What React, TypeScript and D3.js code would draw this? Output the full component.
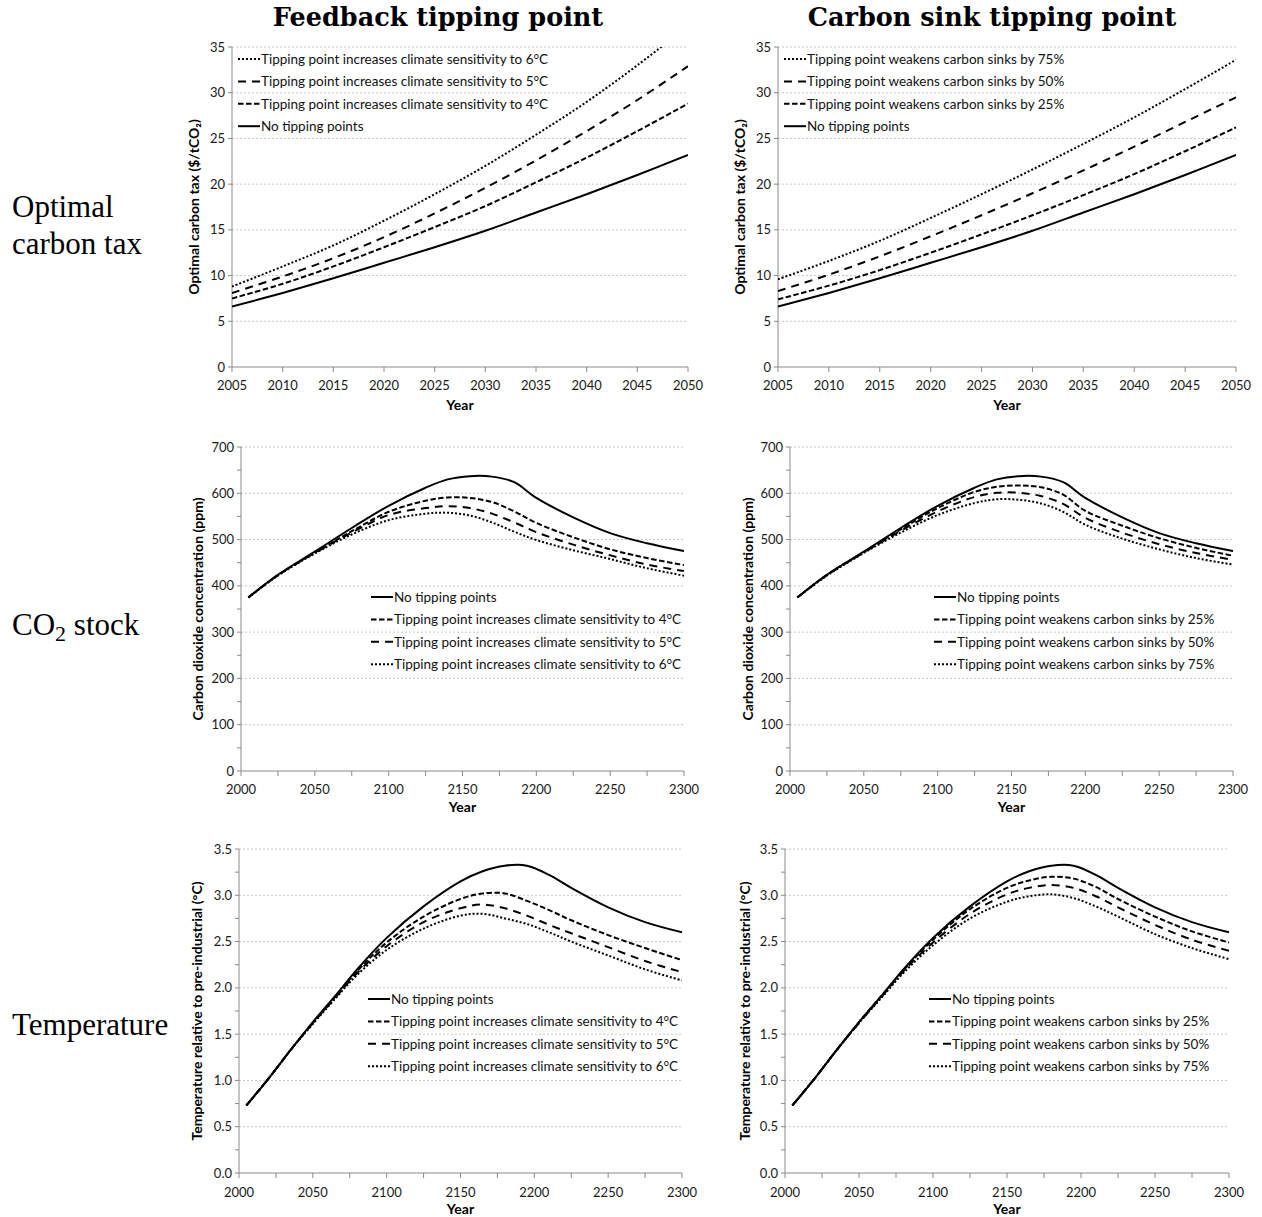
import React, { useEffect, useRef } from 'react';
import * as d3 from 'd3';

// ---- data ----
const taxYears = [2005, 2010, 2015, 2020, 2025, 2030, 2035, 2040, 2045, 2050];
const taxNone = [6.6, 8.1, 9.7, 11.4, 13.1, 14.9, 16.9, 18.9, 21.0, 23.2];
const taxSens4 = [7.5, 9.1, 11.0, 13.1, 15.3, 17.6, 20.2, 22.9, 25.8, 28.8];
const taxSens5 = [8.1, 9.9, 11.9, 14.2, 16.8, 19.6, 22.6, 25.8, 29.2, 32.9];
const taxSens6 = [8.8, 11.0, 13.3, 16.0, 18.9, 22.0, 25.4, 29.0, 33.0, 37.3];
const taxSink25 = [7.4, 8.9, 10.6, 12.5, 14.5, 16.6, 18.8, 21.1, 23.6, 26.2];
const taxSink50 = [8.3, 10.1, 12.1, 14.3, 16.6, 19.0, 21.5, 24.1, 26.8, 29.5];
const taxSink75 = [9.6, 11.6, 13.8, 16.3, 18.9, 21.6, 24.4, 27.3, 30.4, 33.6];

const co2Years = [2005, 2025, 2050, 2075, 2100, 2125, 2140, 2155, 2170, 2185, 2200, 2225, 2250, 2275, 2300];
const co2None = [375, 424, 474, 525, 573, 612, 630, 637, 636, 624, 590, 548, 514, 492, 475];
const co2Sens4 = [375, 423, 472, 518, 560, 584, 591, 590, 581, 561, 536, 505, 479, 460, 445];
const co2Sens5 = [375, 423, 471, 515, 553, 568, 572, 568, 556, 537, 516, 489, 466, 446, 432];
const co2Sens6 = [375, 422, 470, 511, 542, 556, 558, 552, 537, 517, 499, 477, 458, 438, 422];
const co2Sink25 = [375, 424, 473, 522, 568, 603, 614, 617, 613, 597, 562, 530, 503, 482, 465];
const co2Sink50 = [375, 423, 472, 519, 561, 592, 601, 601, 594, 577, 547, 515, 490, 471, 456];
const co2Sink75 = [375, 422, 471, 515, 553, 579, 587, 586, 578, 560, 532, 502, 479, 460, 446];

const tempYears = [2005, 2020, 2035, 2050, 2065, 2080, 2100, 2125, 2150, 2165, 2180, 2195, 2210, 2225, 2250, 2275, 2300];
const tempNone = [0.73, 1.02, 1.33, 1.63, 1.91, 2.2, 2.54, 2.88, 3.15, 3.26, 3.32, 3.32, 3.22, 3.08, 2.87, 2.71, 2.6];
const tempSens4 = [0.73, 1.02, 1.33, 1.62, 1.9, 2.18, 2.49, 2.77, 2.96, 3.02, 3.02, 2.94, 2.84, 2.73, 2.57, 2.43, 2.3];
const tempSens5 = [0.73, 1.02, 1.33, 1.62, 1.89, 2.16, 2.45, 2.71, 2.86, 2.9, 2.86, 2.78, 2.68, 2.59, 2.44, 2.29, 2.17];
const tempSens6 = [0.73, 1.02, 1.33, 1.61, 1.88, 2.14, 2.41, 2.64, 2.78, 2.8, 2.75, 2.69, 2.6, 2.5, 2.35, 2.2, 2.08];
const tempSink25 = [0.73, 1.02, 1.33, 1.63, 1.91, 2.19, 2.52, 2.85, 3.08, 3.16, 3.2, 3.18, 3.09, 2.96, 2.77, 2.61, 2.49];
const tempSink50 = [0.73, 1.02, 1.33, 1.62, 1.9, 2.18, 2.49, 2.8, 3.01, 3.08, 3.11, 3.08, 2.99, 2.87, 2.68, 2.52, 2.4];
const tempSink75 = [0.73, 1.02, 1.33, 1.62, 1.89, 2.16, 2.46, 2.75, 2.93, 2.99, 3.01, 2.97, 2.88, 2.77, 2.58, 2.43, 2.31];

const labelNone = 'No tipping points';
const labelSens = ['Tipping point increases climate sensitivity to 4°C', 'Tipping point increases climate sensitivity to 5°C', 'Tipping point increases climate sensitivity to 6°C'];
const labelSink = ['Tipping point weakens carbon sinks by 25%', 'Tipping point weakens carbon sinks by 50%', 'Tipping point weakens carbon sinks by 75%'];

const dashes: { [k: string]: string | null } = {
  solid: null,
  short: '5.5,2.5',
  long: '8,6',
  dot: '2,2',
};

const SANS = 'Lato, "Open Sans", sans-serif';

const App = () => {
  const ref = useRef<SVGGElement>(null);

  useEffect(() => {
    const svg = d3.select(ref.current);
    svg.selectAll('*').remove();

    const panels = [
      {
        box: [232, 688, 47, 367], xd: [2005, 2050], yd: [0, 35], years: taxYears,
        xt: d3.range(2005, 2051, 5), xm: [] as number[], yt: d3.range(0, 36, 5), ym: [] as number[], fmt: (d: number) => String(d),
        yLab: 'Optimal carbon tax ($/tCO₂)', yLabX: 194, xTickY: 390, xLabY: 410,
        leg: { x: 238, y: 59 },
        series: [
          { v: taxSens6, s: 'dot', l: labelSens[2] },
          { v: taxSens5, s: 'long', l: labelSens[1] },
          { v: taxSens4, s: 'short', l: labelSens[0] },
          { v: taxNone, s: 'solid', l: labelNone },
        ],
      },
      {
        box: [778, 1236, 47, 367], xd: [2005, 2050], yd: [0, 35], years: taxYears,
        xt: d3.range(2005, 2051, 5), xm: [] as number[], yt: d3.range(0, 36, 5), ym: [] as number[], fmt: (d: number) => String(d),
        yLab: 'Optimal carbon tax ($/tCO₂)', yLabX: 740, xTickY: 390, xLabY: 410,
        leg: { x: 784, y: 59 },
        series: [
          { v: taxSink75, s: 'dot', l: labelSink[2] },
          { v: taxSink50, s: 'long', l: labelSink[1] },
          { v: taxSink25, s: 'short', l: labelSink[0] },
          { v: taxNone, s: 'solid', l: labelNone },
        ],
      },
      {
        box: [241, 684, 447, 771], xd: [2000, 2300], yd: [0, 700], years: co2Years,
        xt: d3.range(2000, 2301, 50), xm: d3.range(2025, 2300, 50), yt: d3.range(0, 701, 100), ym: d3.range(50, 700, 100), fmt: (d: number) => String(d),
        yLab: 'Carbon dioxide concentration (ppm)', yLabX: 198, xTickY: 794, xLabY: 812,
        leg: { x: 371, y: 597 },
        series: [
          { v: co2None, s: 'solid', l: labelNone },
          { v: co2Sens4, s: 'short', l: labelSens[0] },
          { v: co2Sens5, s: 'long', l: labelSens[1] },
          { v: co2Sens6, s: 'dot', l: labelSens[2] },
        ],
      },
      {
        box: [790, 1233, 447, 771], xd: [2000, 2300], yd: [0, 700], years: co2Years,
        xt: d3.range(2000, 2301, 50), xm: d3.range(2025, 2300, 50), yt: d3.range(0, 701, 100), ym: d3.range(50, 700, 100), fmt: (d: number) => String(d),
        yLab: 'Carbon dioxide concentration (ppm)', yLabX: 748, xTickY: 794, xLabY: 812,
        leg: { x: 934, y: 597 },
        series: [
          { v: co2None, s: 'solid', l: labelNone },
          { v: co2Sink25, s: 'short', l: labelSink[0] },
          { v: co2Sink50, s: 'long', l: labelSink[1] },
          { v: co2Sink75, s: 'dot', l: labelSink[2] },
        ],
      },
      {
        box: [239, 682, 849, 1173], xd: [2000, 2300], yd: [0, 3.5], years: tempYears,
        xt: d3.range(2000, 2301, 50), xm: d3.range(2025, 2300, 50), yt: d3.range(0, 3.51, 0.5), ym: d3.range(0.25, 3.5, 0.5), fmt: d3.format('.1f'),
        yLab: 'Temperature relative to pre-industrial (°C)', yLabX: 197, xTickY: 1197, xLabY: 1214,
        leg: { x: 368, y: 999 },
        series: [
          { v: tempNone, s: 'solid', l: labelNone },
          { v: tempSens4, s: 'short', l: labelSens[0] },
          { v: tempSens5, s: 'long', l: labelSens[1] },
          { v: tempSens6, s: 'dot', l: labelSens[2] },
        ],
      },
      {
        box: [785, 1229, 849, 1173], xd: [2000, 2300], yd: [0, 3.5], years: tempYears,
        xt: d3.range(2000, 2301, 50), xm: d3.range(2025, 2300, 50), yt: d3.range(0, 3.51, 0.5), ym: d3.range(0.25, 3.5, 0.5), fmt: d3.format('.1f'),
        yLab: 'Temperature relative to pre-industrial (°C)', yLabX: 745, xTickY: 1197, xLabY: 1214,
        leg: { x: 929, y: 999 },
        series: [
          { v: tempNone, s: 'solid', l: labelNone },
          { v: tempSink25, s: 'short', l: labelSink[0] },
          { v: tempSink50, s: 'long', l: labelSink[1] },
          { v: tempSink75, s: 'dot', l: labelSink[2] },
        ],
      },
    ];

    panels.forEach((p, pi) => {
      const [x0, x1, y0, y1] = p.box;
      const x = d3.scaleLinear().domain(p.xd).range([x0, x1]);
      const y = d3.scaleLinear().domain(p.yd).range([y1, y0]);
      const g = svg.append('g');

      // gridlines
      g.selectAll('.grid')
        .data(p.yt.filter((d) => d > p.yd[0]))
        .enter().append('line')
        .attr('x1', x0).attr('x2', x1)
        .attr('y1', (d) => y(d)).attr('y2', (d) => y(d))
        .attr('stroke', '#b8b8b8').attr('stroke-width', 0.8).attr('stroke-dasharray', '2,2');

      // axes
      g.append('line').attr('x1', x0).attr('x2', x0).attr('y1', y0).attr('y2', y1).attr('stroke', '#8a8a8a');
      g.append('line').attr('x1', x0).attr('x2', x1).attr('y1', y1).attr('y2', y1).attr('stroke', '#8a8a8a');
      g.selectAll('.xt').data(p.xt.concat(p.xm)).enter().append('line')
        .attr('x1', (d) => x(d)).attr('x2', (d) => x(d)).attr('y1', y1).attr('y2', y1 + 5)
        .attr('stroke', '#8a8a8a');
      g.selectAll('.yt').data(p.yt.concat(p.ym)).enter().append('line')
        .attr('x1', x0 - 4).attr('x2', x0).attr('y1', (d) => y(d)).attr('y2', (d) => y(d))
        .attr('stroke', '#8a8a8a');

      // tick labels
      g.selectAll('.xl').data(p.xt).enter().append('text')
        .attr('x', (d) => x(d)).attr('y', p.xTickY).attr('text-anchor', 'middle')
        .attr('font-family', SANS).attr('font-size', 13).attr('fill', '#1a1a1a')
        .text((d) => String(d));
      g.selectAll('.yl').data(p.yt).enter().append('text')
        .attr('x', x0 - 7).attr('y', (d) => y(d)).attr('dy', '0.35em').attr('text-anchor', 'end')
        .attr('font-family', SANS).attr('font-size', 13).attr('fill', '#1a1a1a')
        .text((d) => p.fmt(d));

      // axis titles
      g.append('text')
        .attr('transform', `translate(${p.yLabX},${(y0 + y1) / 2}) rotate(-90)`)
        .attr('text-anchor', 'middle').attr('dy', '0.35em')
        .attr('font-family', SANS).attr('font-weight', 'bold').attr('font-size', 14)
        .text(p.yLab);
      g.append('text')
        .attr('x', (x0 + x1) / 2).attr('y', p.xLabY).attr('text-anchor', 'middle')
        .attr('font-family', SANS).attr('font-weight', 'bold').attr('font-size', 14)
        .text('Year');

      // lines
      const clipId = `clip${pi}`;
      svg.append('clipPath').attr('id', clipId).append('rect')
        .attr('x', x0).attr('y', y0).attr('width', x1 - x0).attr('height', y1 - y0);
      const line = d3.line<number>()
        .x((_, i) => x(p.years[i]))
        .y((d) => y(d))
        .curve(d3.curveCatmullRom.alpha(0.5));
      const lines = g.append('g').attr('clip-path', `url(#${clipId})`);
      p.series.forEach((s) => {
        lines.append('path')
          .attr('d', line(s.v))
          .attr('fill', 'none').attr('stroke', '#000').attr('stroke-width', 2)
          .attr('stroke-dasharray', dashes[s.s]);
      });

      // legend
      const leg = g.append('g');
      p.series.forEach((s, i) => {
        const ly = p.leg.y + i * 22.4;
        leg.append('line')
          .attr('x1', p.leg.x).attr('x2', p.leg.x + 22).attr('y1', ly).attr('y2', ly)
          .attr('stroke', '#000').attr('stroke-width', 2)
          .attr('stroke-dasharray', dashes[s.s]);
        leg.append('text')
          .attr('x', p.leg.x + 23).attr('y', ly).attr('dy', '0.35em')
          .attr('font-family', SANS).attr('font-size', 13.5).attr('fill', '#111')
          .text(s.l);
      });
    });
  }, []);

  const serif = '"Liberation Serif", "Times New Roman", serif';
  return (
    <svg width={1262} height={1217} style={{ position: 'absolute', left: 0, top: 0, background: '#fff' }}>
      <rect width={1262} height={1217} fill="#fff" />
      <text x={438} y={26} textAnchor="middle" fontFamily='"DejaVu Serif", serif' fontWeight="bold" fontSize={25.5}>Feedback tipping point</text>
      <text x={992} y={26} textAnchor="middle" fontFamily='"DejaVu Serif", serif' fontWeight="bold" fontSize={25.5}>Carbon sink tipping point</text>
      <text x={12} y={217} fontFamily={serif} fontSize={31}>Optimal</text>
      <text x={12} y={254} fontFamily={serif} fontSize={31}>carbon tax</text>
      <text x={12} y={635} fontFamily={serif} fontSize={31}>
        CO<tspan fontSize={22} dy={6}>2</tspan><tspan dy={-6}> stock</tspan>
      </text>
      <text x={12} y={1035} fontFamily={serif} fontSize={31}>Temperature</text>
      <g ref={ref} />
    </svg>
  );
};

export default App;
